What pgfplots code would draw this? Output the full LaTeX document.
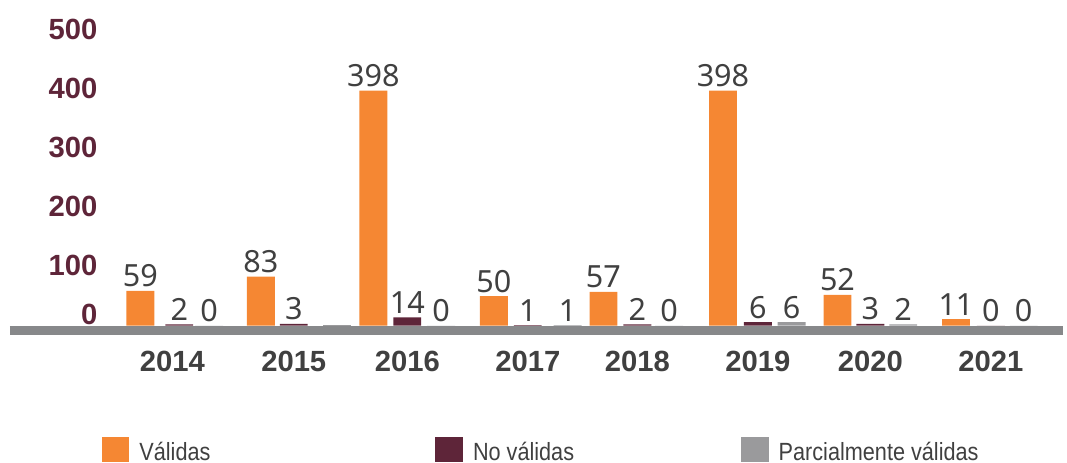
\documentclass[border=0pt]{standalone}
\usepackage{fontspec}
\setmainfont{Liberation Sans}
\newfontfamily\lblfont{Noto Sans}
\newfontfamily\legfont{Liberation Sans}[FakeStretch=0.87]
\usepackage{pgfplots}
\pgfplotsset{compat=1.18}
\definecolor{cOr}{HTML}{F58733}
\definecolor{cMa}{HTML}{5E2539}
\definecolor{cGr}{HTML}{9A9A9C}
\definecolor{cAx}{HTML}{87888A}
\definecolor{cTx}{HTML}{404040}
\pgfplotsset{
  mysq/.style={legend image code/.code={\fill[##1] (0pt,-7.5pt) rectangle (21pt,11.25pt);}},
  mybar/.style={ybar, bar shift=0pt, bar width=28, draw=none, mysq},
  mylbl/.style={nodes near coords, every node near coord/.append style={font=\lblfont\fontsize{23}{23}\selectfont, text=cTx, anchor=base, inner sep=0pt, yshift=3pt}},
}
\begin{document}
\begin{tikzpicture}
\begin{axis}[
  scale only axis, width=792.75pt, height=252pt,
  xmin=10, xmax=1067, ymin=-15.18, ymax=551.4,
  clip=false,
  axis line style={draw=none},
  tick style={draw=none}, major tick length=0pt,
  /pgf/number format/assume math mode=true,
  ytick={100,200,300,400,500},
  extra y ticks={0},
  extra y tick style={yticklabel style={yshift=7.5pt}},
  yticklabel style={font=\bfseries\fontsize{22}{22}\selectfont, text=cMa, anchor=base east, inner sep=0pt, xshift=66pt, yshift=-6.75pt},
  xtick={173,295,409,530,640,761,874,995},
  xticklabels={2014,2015,2016,2017,2018,2019,2020,2021},
  xticklabel style={font=\bfseries\fontsize{22}{22}\selectfont, text=cTx, anchor=base, inner sep=0pt, yshift=-27.75pt},
  legend columns=3,
  legend style={at={(axis cs:102,-188.9)}, anchor=north west, draw=none, fill=none, inner sep=0pt, outer sep=0pt,
    nodes={inner sep=0pt, font=\legfont\fontsize{18.75}{18.75}\selectfont, text=cTx},
    /tikz/every odd column/.append style={column sep=7.5pt},
    /tikz/every even column/.append style={column sep=0pt}},
]
\draw[cAx, line width=6.75pt] (axis cs:10,-7.6) -- (axis cs:1067,-7.6);
\addplot[mybar, fill=cOr, mylbl] coordinates {(141,59) (262,83) (375,398) (496,50) (606,57) (726,398) (841,52) (960,11)};
\addlegendentry{\makebox[222.75pt][l]{Válidas}}
\addplot[mybar, fill=cMa, mylbl] coordinates {(180,2) (295,3) (409,14) (530,1) (640,2) (761,6) (874,3) (995,0)};
\addlegendentry{\makebox[201.75pt][l]{No válidas}}
\addplot[mybar, fill=cGr, mylbl] coordinates {(210,0) (443,0) (570,1) (672,0) (795,6) (907,2) (1028,0)};
\addlegendentry{Parcialmente válidas}
\addplot[mybar, fill=cGr, forget plot] coordinates {(338,1)};
\path (axis cs:0,-231) rectangle (axis cs:1067,551.4);
\end{axis}
\end{tikzpicture}
\end{document}
